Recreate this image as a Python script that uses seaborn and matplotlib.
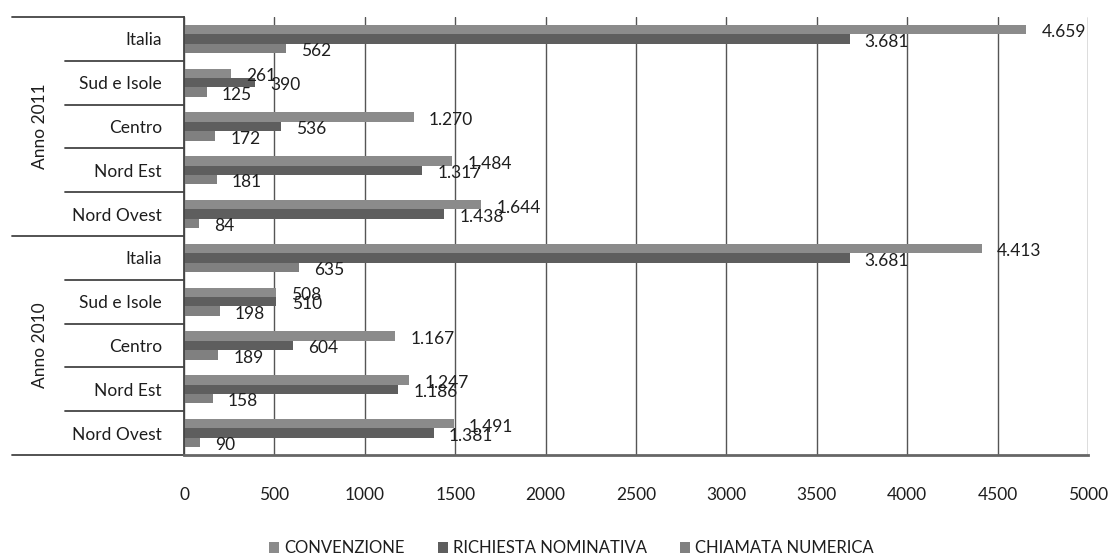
import pandas as pd
import seaborn as sns
import matplotlib.pyplot as plt

# dati (dall'alto in basso)
anni = ["Anno 2011", "Anno 2010"]
aree = ["Italia", "Sud e Isole", "Centro", "Nord Est", "Nord Ovest"]
serie = ["CONVENZIONE", "RICHIESTA NOMINATIVA", "CHIAMATA NUMERICA"]

convenzione_2011 = [4659, 261, 1270, 1484, 1644]
nominativa_2011 = [3681, 390, 536, 1317, 1438]
numerica_2011 = [562, 125, 172, 181, 84]

convenzione_2010 = [4413, 508, 1167, 1247, 1491]
nominativa_2010 = [3681, 510, 604, 1186, 1381]
numerica_2010 = [635, 198, 189, 158, 90]

x_ticks = [0, 500, 1000, 1500, 2000, 2500, 3000, 3500, 4000, 4500, 5000]

colori = ["#8b8b8b", "#5e5e5e", "#808080"]

valori = {
    "Anno 2011": [convenzione_2011, nominativa_2011, numerica_2011],
    "Anno 2010": [convenzione_2010, nominativa_2010, numerica_2010],
}

rows = []
keys = []
for anno in anni:
    for i, area in enumerate(aree):
        key = anno + "|" + area
        keys.append(key)
        for s, vals in zip(serie, valori[anno]):
            rows.append({"key": key, "serie": s, "valore": vals[i]})
df = pd.DataFrame(rows)

sns.set_style("white")
plt.rcParams["font.family"] = ["Lato", "DejaVu Sans"]
text_col = "#1e1e1e"
line_col = "#444444"

fig = plt.figure(figsize=(11.12, 5.57), dpi=100)
ax = fig.add_axes([0.1655, 0.1831, 0.8129, 0.7864])

sns.barplot(data=df, y="key", x="valore", hue="serie", order=keys,
            hue_order=serie, palette=colori, orient="h", width=0.64,
            saturation=1, linewidth=0, ax=ax, legend=True)

ax.set_xlim(0, 5000)
ax.set_ylim(len(keys) - 0.5, -0.5)
ax.set_xticks(x_ticks)
ax.set_xticklabels([str(t) for t in x_ticks], fontsize=12.5, color=text_col)
ax.tick_params(axis="x", direction="out", length=5, width=1, color=line_col, pad=18)
ax.set_yticks(range(len(keys)))
ax.set_yticklabels([k.split("|")[1] for k in keys], fontsize=12.5, color=text_col)
ax.tick_params(axis="y", length=0, pad=16)
ax.set_xlabel("")
ax.set_ylabel("")
ax.xaxis.grid(True, color="#555555", linewidth=1)
ax.set_axisbelow(True)
for sp in ["top", "right"]:
    ax.spines[sp].set_visible(False)
ax.spines["left"].set_color(line_col)
ax.spines["left"].set_linewidth(1.3)
ax.spines["bottom"].set_color("#666666")
ax.spines["bottom"].set_linewidth(2)

# etichette dei valori
for cont in ax.containers:
    for bar in cont:
        v = bar.get_width()
        lab = f"{int(v):,}".replace(",", ".")
        ax.annotate(lab, (v, bar.get_y() + bar.get_height() / 2),
                    xytext=(11, -2), textcoords="offset points",
                    ha="left", va="center", fontsize=12.5, color=text_col)

# separatori delle categorie e etichette degli anni
trans = ax.get_yaxis_transform()
inner_x = -(184 - 65) / (1088 - 184)
outer_x = -(184 - 12) / (1088 - 184)
for j in range(len(keys) + 1):
    y = j - 0.5
    x0 = outer_x if j % 5 == 0 else inner_x
    ax.plot([x0, 0], [y, y], transform=trans, color=line_col,
            linewidth=1.3, clip_on=False)
for a, anno in enumerate(anni):
    ax.text(-(184 - 40) / (1088 - 184), a * 5 + 2, anno, transform=trans,
            rotation=90, ha="center", va="center", fontsize=12.5, color=text_col)

handles, labels = ax.get_legend_handles_labels()
ax.legend_.remove()
fig.legend(handles, labels, loc="center", bbox_to_anchor=(0.514, 0.016),
           ncol=3, frameon=False, fontsize=12, handlelength=0.6,
           handleheight=0.6, handletextpad=0.3, columnspacing=2.0,
           labelcolor=text_col)

fig.savefig("out.png", dpi=100)
